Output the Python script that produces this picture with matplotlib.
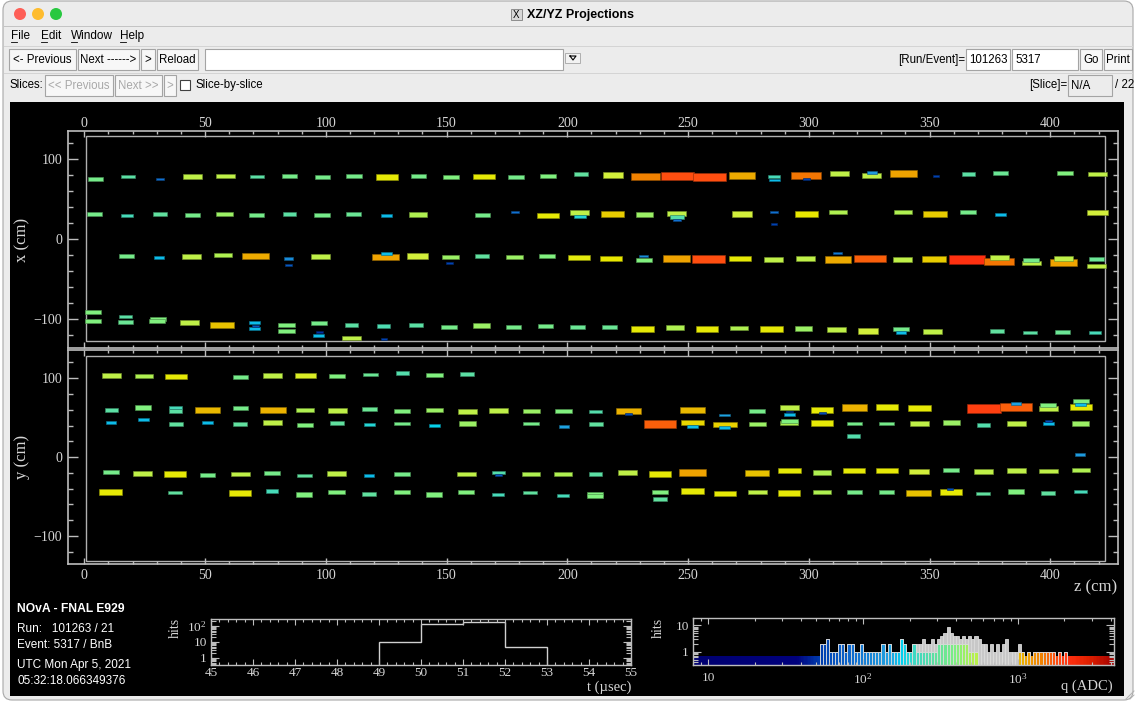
import numpy as np
import matplotlib
matplotlib.use("Agg")
import matplotlib.pyplot as plt
from matplotlib.patches import Rectangle, FancyBboxPatch, Circle
from matplotlib.colors import LinearSegmentedColormap, Normalize, to_rgb
from matplotlib.ticker import MultipleLocator, LogLocator, NullFormatter

W, H = 1136, 702

# hits in the XZ view: (z cm, x cm, charge ADC)
xz_hits = [
    (4.6, 75.4, 360), (18.1, 78.3, 280), (31.5, 75.4, 90), (44.8, 78.3, 560), (58.3, 79.2, 560),
    (71.4, 78.3, 280), (85.0, 78.7, 360), (98.6, 77.9, 360), (111.6, 78.7, 360), (125.2, 77.9, 780),
    (138.5, 79.2, 360), (151.9, 77.9, 400), (165.4, 78.3, 780), (178.7, 77.9, 360), (192.0, 79.2, 400),
    (205.5, 81.3, 300), (218.9, 80.4, 650), (232.4, 78.3, 1400), (245.7, 79.6, 1750), (258.8, 78.3, 1750),
    (272.3, 80.0, 1100), (285.7, 78.3, 230), (285.7, 74.2, 165), (299.0, 79.6, 1450), (299.0, 75.8, 55),
    (312.6, 82.5, 560), (325.9, 79.6, 560), (326.0, 83.3, 140), (339.3, 82.5, 1150), (352.6, 79.2, 55),
    (366.1, 81.7, 280), (379.5, 82.9, 330), (406.2, 82.5, 400), (419.6, 81.7, 560),
    (4.3, 31.7, 360), (17.7, 30.0, 230), (31.3, 31.7, 300), (44.7, 30.4, 360), (58.0, 31.7, 450),
    (71.4, 30.8, 360), (85.0, 31.3, 280), (98.4, 30.0, 360), (111.6, 31.3, 330), (125.0, 30.0, 165),
    (138.1, 30.8, 500), (165.0, 30.8, 360), (178.3, 34.2, 90), (191.9, 30.0, 780), (205.2, 33.8, 560),
    (205.2, 28.8, 200), (218.7, 32.1, 900), (231.9, 30.8, 450), (245.4, 32.1, 560), (245.4, 27.9, 260),
    (245.3, 24.2, 90), (272.3, 31.7, 650), (285.5, 34.2, 90), (285.6, 19.2, 55), (299.0, 31.3, 800),
    (312.2, 34.2, 500), (339.1, 34.2, 500), (352.3, 31.3, 900), (365.9, 34.2, 360), (379.3, 31.3, 165),
    (419.5, 33.3, 650),
    (17.5, -20.4, 360), (30.9, -23.3, 165), (44.3, -21.3, 560), (57.6, -19.6, 500), (70.9, -20.8, 1100),
    (84.5, -24.2, 120), (84.5, -31.7, 70), (97.8, -21.3, 560), (124.6, -22.1, 1150), (125.0, -17.5, 165),
    (138.0, -20.8, 650), (151.3, -29.6, 55), (151.5, -22.1, 450), (164.7, -20.8, 300), (178.3, -22.1, 450),
    (191.5, -20.8, 400), (205.0, -22.5, 750), (218.1, -23.8, 800), (231.7, -20.8, 120), (231.7, -25.4, 400),
    (245.1, -23.8, 1150), (258.4, -25.0, 1750), (271.6, -23.8, 780), (285.2, -25.4, 560), (298.6, -24.2, 560),
    (311.9, -17.5, 100), (312.0, -25.4, 1100), (325.3, -24.2, 1600), (338.6, -25.4, 560), (352.0, -24.2, 900),
    (365.5, -25.4, 2100), (378.7, -27.9, 1450), (378.8, -22.9, 560), (392.1, -29.6, 560), (392.0, -26.3, 360),
    (405.5, -28.8, 1150), (405.6, -24.2, 560), (419.1, -25.0, 330), (419.0, -33.3, 560),
    (3.5, -90.8, 400), (3.6, -102.5, 400), (17.1, -96.3, 280), (17.1, -103.8, 330), (30.4, -99.2, 400),
    (30.1, -102.5, 400), (43.5, -103.8, 560), (57.1, -106.7, 950), (70.4, -103.8, 165), (70.8, -107.9, 70),
    (70.4, -111.7, 165), (83.7, -107.1, 400), (83.7, -114.6, 400), (97.2, -104.2, 360), (97.4, -115.8, 50),
    (97.0, -120.8, 165), (110.6, -123.3, 560), (110.6, -107.5, 280), (124.0, -124.2, 55), (123.8, -108.3, 250),
    (137.3, -107.5, 280), (151.0, -109.2, 360), (164.3, -107.9, 450), (177.6, -109.2, 360), (191.0, -107.9, 360),
    (204.3, -109.2, 330), (217.6, -110.0, 330), (231.1, -112.1, 780), (244.4, -110.0, 500), (257.8, -112.1, 780),
    (271.1, -110.8, 500), (284.6, -112.1, 780), (297.9, -111.3, 450), (311.3, -112.5, 560), (324.6, -114.6, 650),
    (338.2, -112.1, 360), (338.2, -116.3, 165), (351.4, -115.0, 560), (378.1, -115.0, 300), (391.6, -116.3, 280),
    (405.0, -115.4, 330), (418.5, -116.3, 230),
]

# hits in the YZ view: (z cm, y cm, charge ADC)
yz_hits = [
    (11.1, 103.8, 560), (24.7, 102.5, 500), (38.1, 102.1, 780), (64.7, 101.3, 360), (78.1, 103.8, 560),
    (91.5, 103.8, 700), (104.8, 103.0, 400), (118.4, 104.6, 330), (131.7, 106.8, 260), (145.0, 103.8, 400),
    (158.6, 105.5, 280),
    (11.2, 59.5, 280), (24.4, 62.9, 400), (37.8, 62.4, 230), (37.8, 58.2, 280), (51.1, 59.9, 1000),
    (64.6, 62.0, 360), (78.0, 59.9, 1050), (91.4, 59.5, 500), (104.8, 59.5, 560), (118.1, 61.2, 330),
    (131.5, 58.6, 400), (144.9, 59.5, 450), (158.5, 57.4, 560), (171.7, 59.5, 560), (185.1, 58.2, 450),
    (198.4, 58.2, 400), (211.7, 57.8, 260), (225.3, 58.6, 1050), (225.4, 54.9, 60), (252.0, 59.5, 1000),
    (265.1, 53.2, 150), (278.6, 58.2, 360), (292.0, 62.4, 560), (292.0, 54.4, 165), (292.0, 57.8, 55),
    (305.5, 59.5, 780), (305.7, 55.7, 60), (318.9, 62.9, 1050), (332.3, 63.3, 780), (345.8, 62.0, 780),
    (372.5, 61.6, 1900), (385.8, 63.7, 1600), (385.7, 67.5, 150), (399.2, 65.8, 400), (399.2, 61.6, 560),
    (412.7, 70.9, 400), (412.6, 67.1, 165), (412.6, 63.7, 780),
    (11.1, 44.3, 165), (24.6, 47.7, 165), (37.8, 42.2, 300), (51.0, 44.3, 165), (64.6, 42.2, 300),
    (78.0, 43.9, 560), (91.4, 40.5, 400), (104.6, 43.5, 300), (118.1, 40.9, 200), (131.5, 42.6, 360),
    (145.0, 40.1, 180), (158.5, 42.6, 450), (185.0, 42.6, 360), (198.5, 39.2, 150), (211.9, 42.2, 300),
    (238.5, 41.8, 1600), (251.9, 43.9, 850), (251.9, 39.2, 165), (265.4, 41.4, 880), (265.1, 37.6, 165),
    (278.7, 42.2, 450), (292.0, 46.0, 400), (292.0, 43.0, 500), (305.5, 43.0, 780), (318.9, 42.6, 360),
    (318.6, 26.6, 260), (332.2, 42.6, 360), (345.7, 42.2, 560), (359.1, 43.9, 450), (372.5, 40.9, 260),
    (385.8, 43.0, 560), (399.3, 42.2, 165), (399.2, 46.0, 60), (412.6, 42.6, 450), (412.3, 3.4, 140),
    (11.0, -19.4, 360), (24.2, -20.3, 560), (37.7, -21.5, 780), (51.1, -23.2, 360), (64.5, -21.5, 560),
    (77.8, -19.8, 360), (91.2, -23.2, 300), (104.6, -20.3, 560), (117.9, -22.8, 165), (131.5, -21.1, 360),
    (158.2, -21.5, 560), (171.6, -19.8, 260), (171.6, -22.8, 70), (185.0, -21.1, 500), (198.2, -21.1, 500),
    (211.7, -21.5, 280), (224.9, -19.8, 560), (238.5, -21.5, 780), (251.8, -19.8, 1150), (278.5, -20.7, 950),
    (292.0, -16.9, 780), (305.3, -19.8, 500), (318.7, -16.9, 780), (332.3, -16.9, 780), (345.6, -18.1, 650),
    (358.9, -16.5, 360), (372.4, -18.1, 560), (385.8, -16.5, 560), (399.1, -17.7, 560), (412.6, -16.5, 500),
    (10.8, -43.9, 780), (37.6, -44.7, 300), (64.5, -45.6, 780), (77.8, -43.0, 230), (91.1, -47.3, 400),
    (104.4, -43.9, 400), (117.9, -46.4, 300), (131.5, -44.7, 400), (144.7, -47.3, 400), (158.1, -44.7, 400),
    (171.4, -47.7, 230), (184.7, -44.7, 300), (198.2, -48.5, 230), (211.5, -46.8, 400), (211.5, -49.4, 400),
    (238.4, -44.7, 400), (238.4, -52.7, 300), (251.8, -43.0, 780), (265.2, -46.0, 780), (278.6, -44.3, 560),
    (291.9, -45.6, 780), (305.4, -43.9, 500), (318.8, -44.7, 360), (332.1, -44.7, 360), (345.4, -45.6, 950),
    (358.9, -44.3, 780), (358.5, -40.5, 60), (372.3, -46.0, 300), (385.8, -43.5, 400), (399.0, -45.1, 300),
    (412.5, -43.9, 230),
]

# hit time histogram (usec)
t_edges = [45, 46, 47, 48, 49, 50, 51, 52, 53, 54, 55]
t_counts = [0, 0, 0, 0, 10, 125, 160, 5, 0, 0]

# charge histogram, bins of 0.02 in log10(q) starting at log10(q) = 1.72
q_counts = [2, 2, 3, 1, 1, 1, 2, 2, 1, 2, 2, 1, 1, 2, 1, 1, 1, 1, 1, 1,
            2, 1, 2, 1, 1, 1, 3, 2, 1, 1, 2, 2, 2, 3, 2, 2, 3, 2, 3, 4,
            5, 9, 5, 4, 4, 3, 4, 3, 4, 3, 4, 3, 2, 2, 1, 2, 1, 2, 1, 2,
            3, 1, 1, 1, 2, 1, 0, 1, 0, 1, 1, 1, 1, 1, 1, 1, 0, 1, 0, 1]
q_counts_col = [2, 2, 3, 1, 1, 1, 2, 2, 1, 2, 2, 1, 1, 2, 1, 1, 1, 1, 1, 1,
                2, 1, 2, 1, 1, 1, 3, 2, 1, 1, 2, 1, 1, 1, 1, 1, 1, 1, 2, 2,
                2, 2, 2, 2, 2, 2, 2, 2, 1, 1, 1, 0, 0, 0, 0, 0, 0, 0, 0, 0,
                0, 0, 0, 0, 1, 1, 0, 1, 0, 1, 1, 1, 1, 1, 1, 1, 0, 1, 0, 1]

info_lines = ["Run:   101263 / 21", "Event: 5317 / BnB", "UTC Mon Apr 5, 2021", "05:32:18.066349376"]

plt.rcParams['font.family'] = ['Liberation Serif', 'DejaVu Serif']
plt.rcParams['mathtext.fontset'] = 'custom'
plt.rcParams['mathtext.rm'] = 'Liberation Serif'
plt.rcParams['mathtext.it'] = 'Liberation Serif:italic'
SANS = ['Liberation Sans', 'DejaVu Sans']

# palette along log10(q)
anchors = [(0.90, '#000070'), (1.57, '#00007c'), (1.73, '#0040b0'), (1.95, '#1070d0'), (2.17, '#20a0e0'),
           (2.25, '#00d0f0'), (2.34, '#40d8c0'), (2.47, '#60e0a0'), (2.60, '#80f080'), (2.70, '#b0f050'),
           (2.81, '#d0f040'), (2.90, '#e8e800'), (2.98, '#e8c000'), (3.07, '#f0a000'), (3.15, '#f08000'),
           (3.24, '#ff5010'), (3.33, '#ff3010'), (3.46, '#e02000'), (3.63, '#a00000')]
lq_lo, lq_hi = anchors[0][0], anchors[-1][0]
cmap = LinearSegmentedColormap.from_list(
    'evd', [((a - lq_lo) / (lq_hi - lq_lo), c) for a, c in anchors])
norm = Normalize(lq_lo, lq_hi)

fig = plt.figure(figsize=(W / 100, H / 100), dpi=100)
fig.patch.set_facecolor('white')


def box(x0, y0, x1, y1):
    return [x0 / W, 1 - y1 / H, (x1 - x0) / W, (y1 - y0) / H]


ui = fig.add_axes([0, 0, 1, 1])
ui.set_xlim(0, W)
ui.set_ylim(H, 0)
ui.axis('off')

# window chrome
ui.add_patch(FancyBboxPatch((3, 1), W - 6, H - 3, boxstyle='round,pad=0,rounding_size=9',
                            fc='#ececec', ec='#a8a8a8', lw=0.8))
ui.add_patch(Rectangle((3.5, 26), W - 7, 0.8, fc='#c4c4c4', ec='none'))
ui.add_patch(Rectangle((3.5, 46), W - 7, 0.8, fc='#d4d4d4', ec='none'))
ui.add_patch(Rectangle((3.5, 73), W - 7, 0.8, fc='#d4d4d4', ec='none'))
for cx, col in [(20, '#fe5f57'), (38, '#febc2e'), (56, '#28c840')]:
    ui.add_patch(Circle((cx, 14), 6, fc=col, ec='none'))
ui.add_patch(Rectangle((511, 9), 11, 11, fc='#d8d8d8', ec='#808080', lw=0.6))
ui.text(516.5, 14.5, 'X', ha='center', va='center', fontsize=7, family=SANS)
ui.text(527, 15, 'XZ/YZ Projections', ha='left', va='center', fontsize=9, weight='bold', family=SANS)

for x, lab in [(11, 'File'), (41, 'Edit'), (71, 'Window'), (120, 'Help')]:
    ui.text(x, 36, lab, ha='left', va='center', fontsize=8.5, family=SANS)
    ui.plot([x, x + 6], [42, 42], color='black', lw=0.6)


def button(x0, x1, y0, y1, label, col='black'):
    ui.add_patch(Rectangle((x0, y0), x1 - x0, y1 - y0, fc='#f7f7f7', ec='#a4a4a4', lw=0.8))
    ui.text((x0 + x1) / 2, (y0 + y1) / 2 + 0.5, label, ha='center', va='center', fontsize=8.3,
            color=col, family=SANS)


def entry(x0, x1, y0, y1, label, fc='white'):
    ui.add_patch(Rectangle((x0, y0), x1 - x0, y1 - y0, fc=fc, ec='#a4a4a4', lw=0.8))
    ui.text(x0 + 3, (y0 + y1) / 2 + 0.5, label, ha='left', va='center', fontsize=8.3, family=SANS)


button(9, 76, 49, 70, '<- Previous')
button(78, 139, 49, 70, 'Next ------>')
button(141, 155, 49, 70, '>')
button(157, 198, 49, 70, 'Reload')
entry(205, 563, 49, 70, '')
ui.add_patch(Rectangle((565, 53), 15, 10, fc='#f2f2f2', ec='#a4a4a4', lw=0.6))
ui.plot([570, 576, 573, 570], [56, 56, 60, 56], color='black', lw=0.8)
ui.text(965, 60, '[Run/Event]=', ha='right', va='center', fontsize=8.3, family=SANS)
entry(966, 1010, 49, 70, '101263')
entry(1012, 1078, 49, 70, '5317')
button(1080, 1102, 49, 70, 'Go')
button(1104, 1132, 49, 70, 'Print')

ui.text(9, 85, 'Slices:', ha='left', va='center', fontsize=8.3, family=SANS)
button(45, 113, 75, 96, '<< Previous', col='#a8a8a8')
button(115, 162, 75, 96, 'Next >>', col='#a8a8a8')
button(164, 176, 75, 96, '>', col='#a8a8a8')
ui.add_patch(Rectangle((180, 80), 10, 10, fc='white', ec='#404040', lw=0.8))
ui.text(196, 85, 'Slice-by-slice', ha='left', va='center', fontsize=8.3, family=SANS)
ui.text(1067, 85, '[Slice]=', ha='right', va='center', fontsize=8.3, family=SANS)
entry(1068, 1112, 75, 96, 'N/A', fc='#ececec')
ui.text(1115, 85, '/ 22', ha='left', va='center', fontsize=8.3, family=SANS)

# black display canvas
ui.add_patch(Rectangle((10, 102), 1114, 594, fc='black', ec='none'))
ui.plot([1126, 1134], [699, 691], color='#b0b0b0', lw=0.7)
ui.plot([1130, 1134], [699, 695], color='#b0b0b0', lw=0.7)

frame_col = '#bdbdbd'
txt_col = '#d6d6d6'


def draw_hits(ax, hits):
    for z, v, q in sorted(hits, key=lambda h: -h[2]):
        s = np.sqrt(q)
        w = 0.3 + 0.32 * s
        h = 0.8 + 0.22 * s
        c = np.array(to_rgb(cmap(norm(np.log10(q)))))
        ax.add_patch(Rectangle((z - w / 2, v - h / 2), w, h, fc=c, ec=c * 0.6, lw=0.45))


def panel(rect, ylim, det, hits, top):
    ax = fig.add_axes(box(*rect))
    ax.set_facecolor('black')
    ax.set_xlim((rect[0] - 84.3) / 2.415, (rect[2] - 84.3) / 2.415)
    ax.set_ylim(*ylim)
    for s in ax.spines.values():
        s.set_color(frame_col)
        s.set_linewidth(1.2)
    ax.xaxis.set_major_locator(MultipleLocator(50))
    ax.xaxis.set_minor_locator(MultipleLocator(10))
    ax.yaxis.set_major_locator(MultipleLocator(100))
    ax.yaxis.set_minor_locator(MultipleLocator(20))
    ax.tick_params(axis='both', which='both', direction='in', colors=frame_col, labelcolor=txt_col,
                   labelsize=10, width=1)
    ax.tick_params(axis='x', which='both', top=True, bottom=True, labeltop=top, labelbottom=not top,
                   pad=0.5 if top else 3.5)
    ax.tick_params(axis='x', which='major', length=4)
    ax.tick_params(axis='x', which='minor', length=2)
    ax.tick_params(axis='y', which='both', left=True, right=True, pad=4)
    ax.tick_params(axis='y', which='major', length=7.5)
    ax.tick_params(axis='y', which='minor', length=3.8)
    ax.add_patch(Rectangle((det[0], det[2]), det[1] - det[0], det[3] - det[2], fill=False,
                           ec='#b0b0b0', lw=1.0))
    draw_hits(ax, hits)
    return ax


panel((68, 131, 1118, 348), (-135.9, 135.4), (0.7, 422.6, -127.1, 129.1), xz_hits, True)
panel((68, 349.5, 1118, 564), (-135.4, 136.3), (0.7, 422.6, -131.3, 128.2), yz_hits, False)

ui.text(22, 240, 'x (cm)', rotation=90, ha='center', va='center', fontsize=12, color=txt_col)
ui.text(22, 457, 'y (cm)', rotation=90, ha='center', va='center', fontsize=12, color=txt_col)
ui.text(1117, 587, 'z (cm)', ha='right', va='center', fontsize=12, color=txt_col)

# run info
ui.text(17, 609, 'NOvA - FNAL E929', ha='left', va='center', fontsize=8.7, weight='bold',
        color='white', family=SANS)
for y, line in zip([629, 645, 665, 681], info_lines):
    ui.text(17, y, line, ha='left', va='center', fontsize=8.5, color='white', family=SANS)

# timing histogram
axt = fig.add_axes(box(211, 619, 631, 665))
axt.set_facecolor('black')
axt.set_yscale('log')
axt.set_xlim(45, 55)
axt.set_ylim(0.35, 263)
axt.stairs(t_counts, t_edges, color='#d0d0d0', lw=1.0)
for s in axt.spines.values():
    s.set_color(frame_col)
    s.set_linewidth(1.0)
axt.xaxis.set_major_locator(MultipleLocator(1))
axt.xaxis.set_minor_locator(MultipleLocator(0.2))
axt.set_yticks([1, 10, 100], ['1', '10', '$10^{2}$'])
axt.yaxis.set_minor_locator(LogLocator(subs=range(2, 10)))
axt.yaxis.set_minor_formatter(NullFormatter())
axt.tick_params(axis='both', which='both', direction='in', colors=frame_col, labelcolor=txt_col,
                top=True, right=True, width=0.8, labelsize=9.5)
axt.tick_params(axis='x', which='major', length=4, pad=1.5)
axt.tick_params(axis='x', which='minor', length=2)
axt.tick_params(axis='y', which='major', length=6, pad=3)
axt.tick_params(axis='y', which='minor', length=3.5)
ui.text(175, 628, 'hits', rotation=90, ha='center', va='center', fontsize=10, color=txt_col)
ui.text(631, 687, 't (\u00b5sec)', ha='right', va='center', fontsize=10.5, color=txt_col)

# charge histogram
axq = fig.add_axes(box(693, 618, 1114, 665))
axq.set_facecolor('black')
axq.set_xscale('log')
axq.set_yscale('log')
axq.set_xlim(8.0, 4180)
axq.set_ylim(0.31, 19)
band_edges = np.logspace(np.log10(8.0), np.log10(4180), 300)
band_vals = np.log10(np.sqrt(band_edges[:-1] * band_edges[1:]))[None, :]
axq.pcolormesh(band_edges, [0.31, 0.68], band_vals, cmap=cmap, norm=norm, shading='flat')
q_edges = 10 ** (1.72 + 0.02 * np.arange(len(q_counts) + 1))
for i, (n_all, n_col) in enumerate(zip(q_counts, q_counts_col)):
    lo, hi = q_edges[i], q_edges[i + 1]
    c = cmap(norm(np.log10(np.sqrt(lo * hi))))
    if n_all > 0:
        axq.add_patch(Rectangle((lo, 0.31), hi - lo, n_all - 0.31, fc='#c8c8c8', ec='#dcdcdc', lw=0.6))
    if n_col > 0:
        axq.add_patch(Rectangle((lo, 0.31), hi - lo, n_col - 0.31, fc=c, ec='#dcdcdc', lw=0.6))
for s in axq.spines.values():
    s.set_color(frame_col)
    s.set_linewidth(1.0)
axq.set_xticks([10, 100, 1000], ['10', '$10^{2}$', '$10^{3}$'])
axq.xaxis.set_minor_locator(LogLocator(subs=range(2, 10)))
axq.xaxis.set_minor_formatter(NullFormatter())
axq.set_yticks([1, 10], ['1', '10'])
axq.yaxis.set_minor_locator(LogLocator(subs=range(2, 10)))
axq.yaxis.set_minor_formatter(NullFormatter())
axq.tick_params(axis='both', which='both', direction='in', colors=frame_col, labelcolor=txt_col,
                top=True, right=True, width=0.8, labelsize=9.5)
axq.tick_params(axis='x', which='major', length=4, pad=5)
axq.tick_params(axis='x', which='minor', length=2)
axq.tick_params(axis='y', which='major', length=6, pad=3)
axq.tick_params(axis='y', which='minor', length=3.5)
ui.text(658, 628, 'hits', rotation=90, ha='center', va='center', fontsize=10, color=txt_col)
ui.text(1113, 686, 'q (ADC)', ha='right', va='center', fontsize=10.5, color=txt_col)

fig.savefig('out.png', dpi=100)
